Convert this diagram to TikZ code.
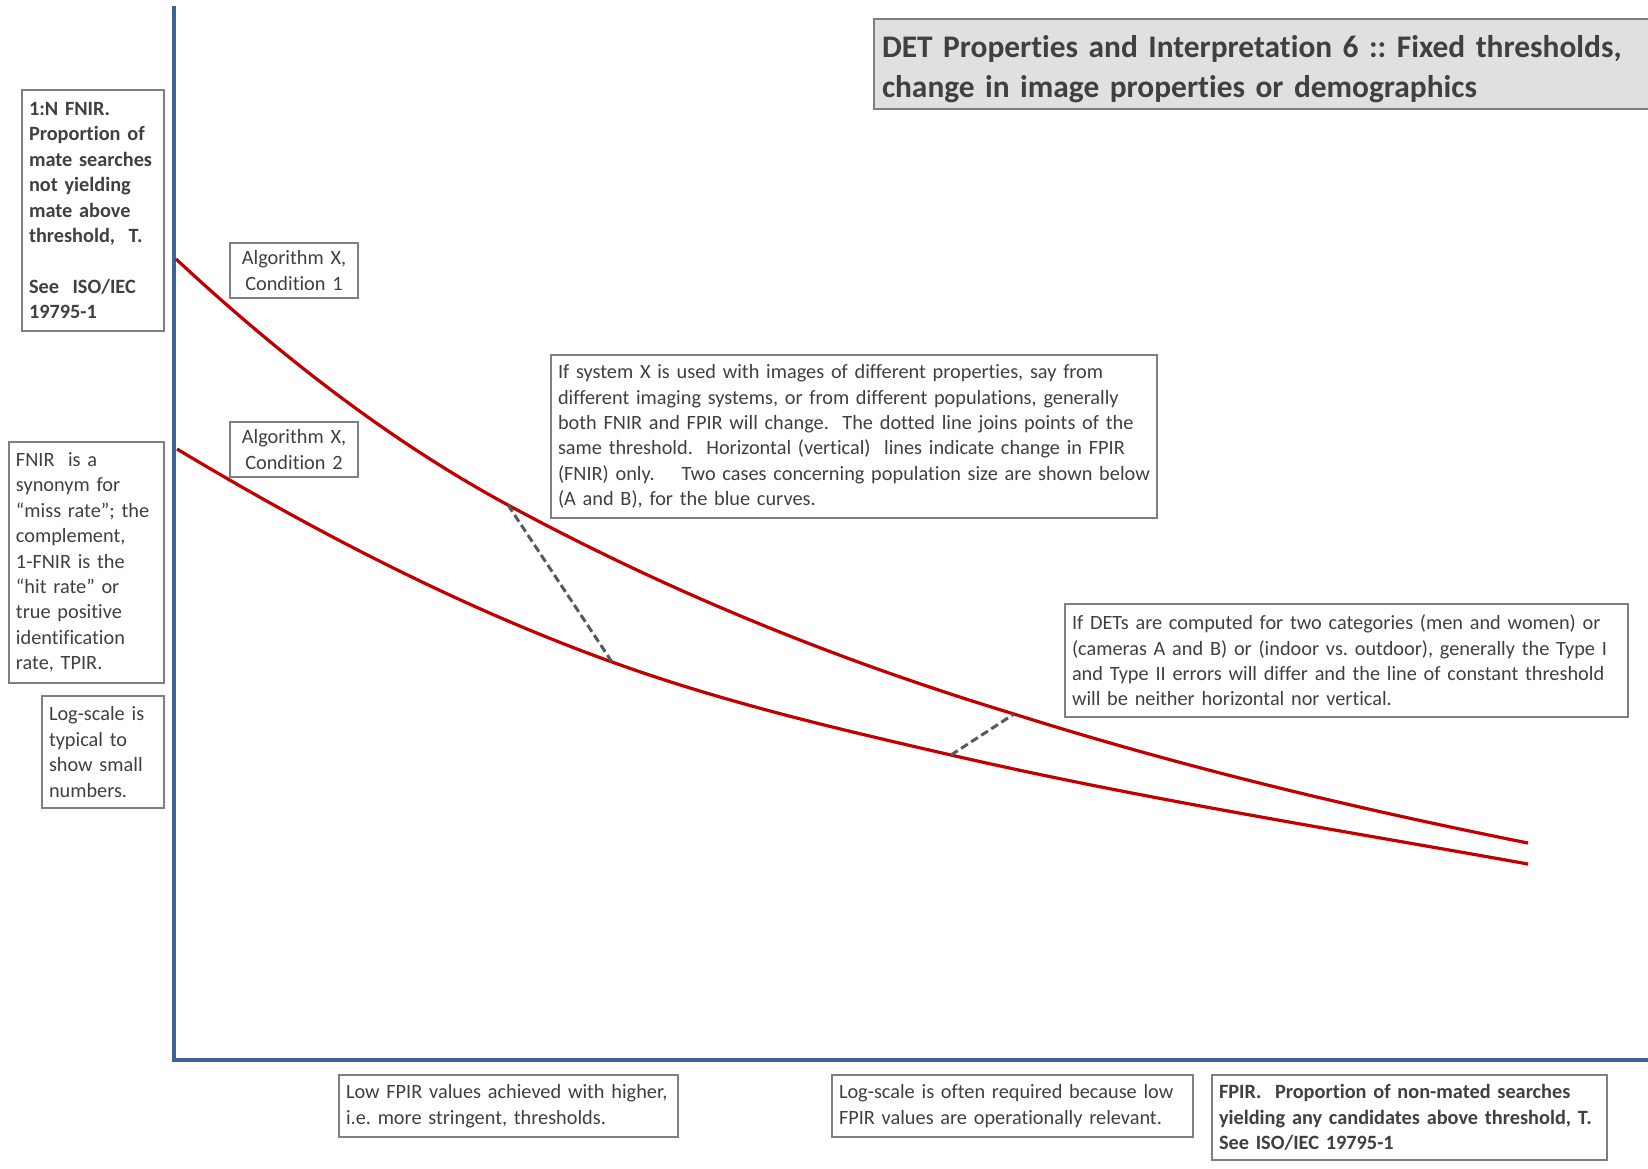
\documentclass[tikz,border=0pt]{standalone}
\usepackage{fontspec}
\setmainfont{Carlito}[Ligatures=NoCommon]
\definecolor{axisblue}{HTML}{3C649B}
\definecolor{curvered}{HTML}{C00000}
\definecolor{boxgray}{HTML}{7F7F7F}
\definecolor{txtgray}{HTML}{404040}
\definecolor{titlefill}{HTML}{E0E0E0}
\definecolor{dashgray}{HTML}{595959}
\newcommand{\notefont}{\fontsize{10.15pt}{12.7pt}\selectfont\frenchspacing\hyphenpenalty=10000 }
\newcommand{\titlefont}{\fontsize{15.7pt}{20pt}\selectfont\bfseries\frenchspacing\hyphenpenalty=10000 }
\begin{document}
\begin{tikzpicture}[x=0.5pt,y=-0.5pt,
  note/.style={draw=boxgray, line width=1pt, fill=white, text=txtgray,
    font=\notefont, align=left, inner xsep=3.5pt, inner ysep=2pt,
    anchor=north west},
  boxsize/.style 2 args={text width=#1-7pt, minimum height=#2},
  axisline/.style={draw=axisblue, line width=2pt},
  curve/.style={draw=curvered, line width=1.6pt},
  thrline/.style={draw=dashgray, line width=1.5pt, dash pattern=on 4pt off 2pt}]
\useasboundingbox (0,0) rectangle (1648,1168);

% axes
\coordinate (origin) at (174,1060);
\coordinate (ytop) at (174,6);
\coordinate (xend) at (1660,1060);
\draw[axisline] (ytop) -- (origin) -- (xend);

% title banner
\node[note, fill=titlefill, font=\titlefont, inner xsep=4pt, inner ysep=0pt,
  text width=392pt, minimum height=45pt] (title) at (873,18)
  {\rule{0pt}{16.5pt}DET Properties and Interpretation 6 :: Fixed thresholds,\\
   change in image properties or demographics};

% axis notes
\node[note, font=\notefont\bfseries, boxsize={71pt}{120.5pt}] (fnirdef) at (21,89)
  {1:N FNIR.\\ Proportion of\\ mate searches\\ not yielding\\ mate above\\
   threshold,~~T.\\ ~\\ See~~ISO/IEC\\ 19795-1};
\node[note, boxsize={77.5pt}{120.5pt}] (fnirsyn) at (8,441)
  {FNIR~~is a\\ synonym for\\ “miss rate”; the\\ complement,\\ 1-FNIR is the\\
   “hit rate” or\\ true positive\\ identification\\ rate, TPIR.};
\node[note, boxsize={61pt}{56pt}] (logy) at (41,695)
  {Log-scale is\\ typical to\\ show small\\ numbers.};

% curve labels
\node[note, align=center, boxsize={64pt}{27.5pt}] (alg1) at (229,242)
  {Algorithm X,\\ Condition 1};
\node[note, align=center, boxsize={64pt}{27.5pt}] (alg2) at (229,421)
  {Algorithm X,\\ Condition 2};

% explanatory notes
\node[note, boxsize={303pt}{81.5pt}] (mid) at (550,354)
  {If system X is used with images of different properties, say from\\
   different imaging systems, or from different populations, generally\\
   both FNIR and FPIR will change.~~The dotted line joins points of the\\
   same threshold.~~Horizontal (vertical)~~lines indicate change in FPIR\\
   (FNIR) only.~~~~Two cases concerning population size are shown below\\
   (A and B), for the blue curves.};
\node[note, boxsize={281.5pt}{56.5pt}] (dets) at (1064,603)
  {If DETs are computed for two categories (men and women) or\\
   (cameras A and B) or (indoor vs. outdoor), generally the Type I\\
   and Type II errors will differ and the line of constant threshold\\
   will be neither horizontal nor vertical.};

% x-axis notes
\node[note, boxsize={169.5pt}{31pt}] (lowf) at (338,1074)
  {Low FPIR values achieved with higher,\\ i.e. more stringent, thresholds.};
\node[note, boxsize={180.5pt}{31pt}] (logx) at (831,1074)
  {Log-scale is often required because low\\ FPIR values are operationally relevant.};
\node[note, font=\notefont\bfseries, boxsize={197.5pt}{42.5pt}] (fpirdef) at (1211,1074)
  {FPIR.~~Proportion of non-mated searches\\ yielding any candidates above threshold, T.\\
   See ISO/IEC 19795-1};

% DET curves
\coordinate (ua) at (176,259);
\coordinate (ub) at (508,505);
\coordinate (uc) at (1014,714);
\coordinate (ud) at (1528,843);
\coordinate (la) at (177,449);
\coordinate (lb) at (612,662);
\coordinate (lc) at (951,755);
\coordinate (ld) at (1528,864);
\draw[curve] (ua) .. controls (286.7,362) and (397.3,445.2) .. (ub)
  .. controls (676.7,596.1) and (845.3,662.7) .. (uc)
  .. controls (1185.3,768) and (1356.7,808.7) .. (ud);
\draw[curve] (la) .. controls (322,536) and (467,609.8) .. (lb)
  .. controls (725,702.7) and (838,729) .. (lc)
  .. controls (1143.3,799.2) and (1335.7,829.4) .. (ld);

% lines of constant threshold
\draw[thrline] (ub) -- (lb);
\draw[thrline] (lc) -- (uc);
\end{tikzpicture}
\end{document}
